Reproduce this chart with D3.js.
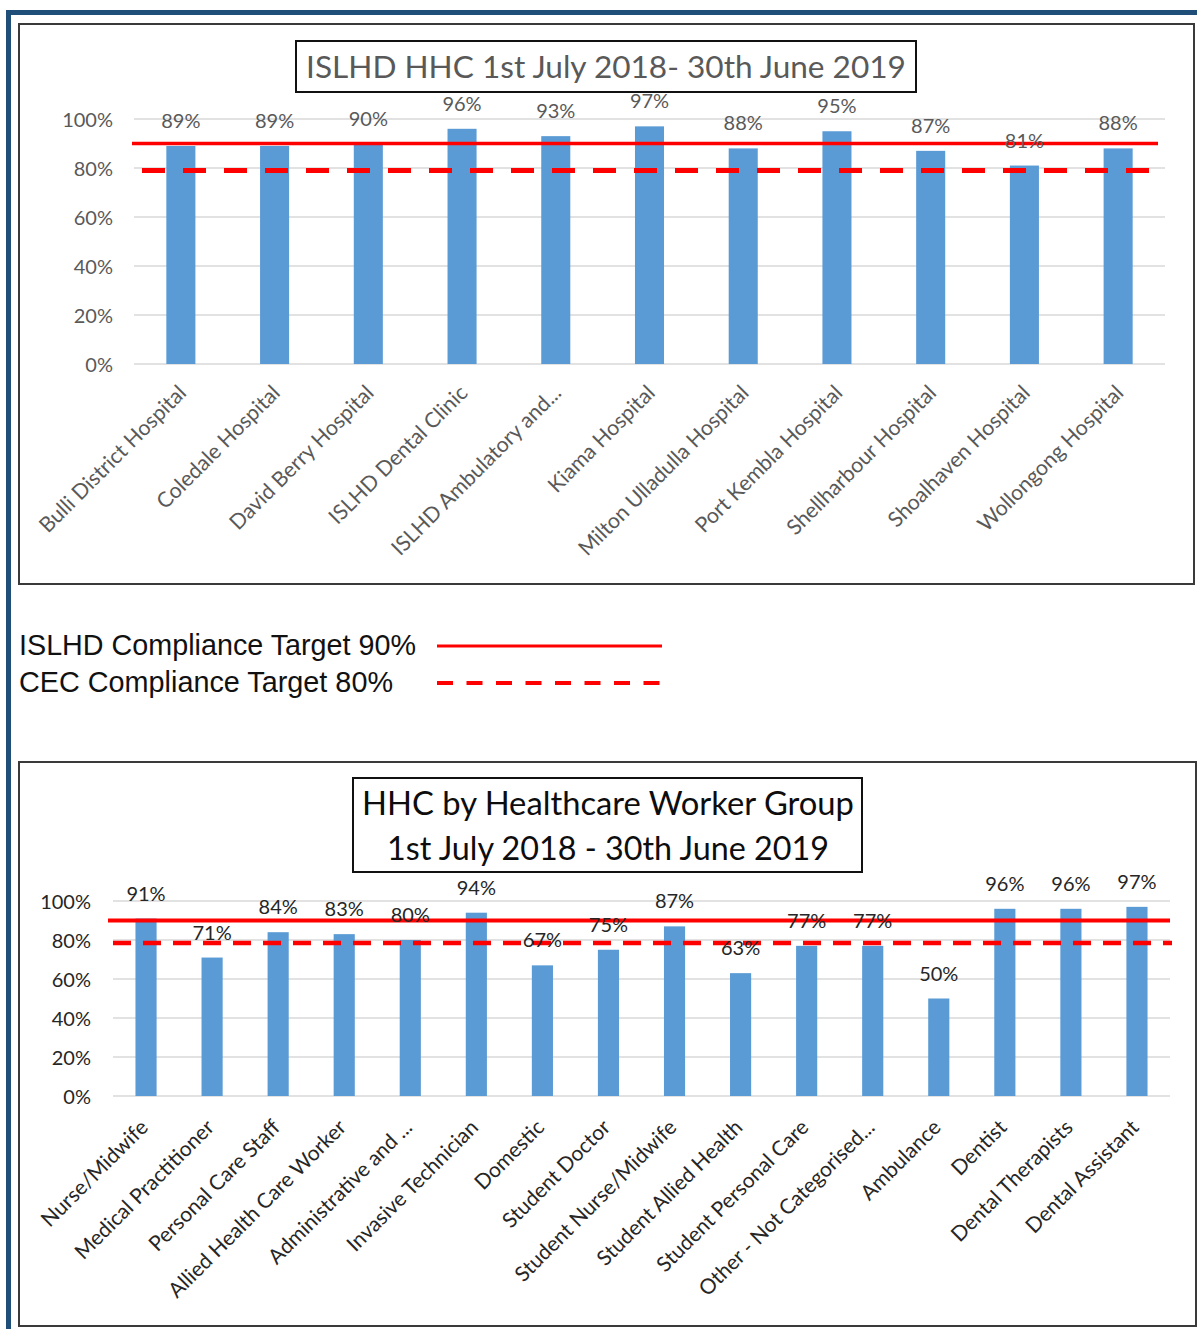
<!DOCTYPE html>
<html>
<head>
<meta charset="utf-8">
<script src="https://cdn.jsdelivr.net/npm/d3@7"></script>
<style>
  body { margin: 0; background: #fff; }
  svg { display: block; }
</style>
</head>
<body>
<script>
// ---- data ----
const sites = ["Bulli District Hospital", "Coledale Hospital", "David Berry Hospital", "ISLHD Dental Clinic",
  "ISLHD Ambulatory and...", "Kiama Hospital", "Milton Ulladulla Hospital", "Port Kembla Hospital",
  "Shellharbour Hospital", "Shoalhaven Hospital", "Wollongong Hospital"];
const siteHHC = [0.89, 0.89, 0.90, 0.96, 0.93, 0.97, 0.88, 0.95, 0.87, 0.81, 0.88];

const groups = ["Nurse/Midwife", "Medical Practitioner", "Personal Care Staff", "Allied Health Care Worker",
  "Administrative and ...", "Invasive Technician", "Domestic", "Student Doctor", "Student Nurse/Midwife",
  "Student Allied Health", "Student Personal Care", "Other - Not Categorised...", "Ambulance", "Dentist",
  "Dental Therapists", "Dental Assistant"];
const groupHHC = [0.91, 0.71, 0.84, 0.83, 0.80, 0.94, 0.67, 0.75, 0.87, 0.63, 0.77, 0.77, 0.50, 0.96, 0.96, 0.97];

const yTicks = [0, 0.2, 0.4, 0.6, 0.8, 1];
// target lines as they sit on the charts (ISLHD solid, CEC dashed)
const targetLevels = [0.90, 0.79];
const legendLabels = ["ISLHD Compliance Target 90%", "CEC Compliance Target 80%"];
const titleTop = ["ISLHD HHC 1st July 2018- 30th June 2019"];
const titleBottom = ["HHC by Healthcare Worker Group", "1st July 2018 - 30th June 2019"];

const W = 1197, H = 1329;
const svg = d3.select("body").append("svg").attr("width", W).attr("height", H);

// shrink/grow a text's font so it spans a given width
const fitWidth = (sel, w) => {
  sel.each(function() {
    const fs = parseFloat(this.getAttribute("font-size"));
    const len = this.getComputedTextLength();
    this.setAttribute("font-size", (fs * w / len).toFixed(2));
  });
};

// outer blue frame (top and left edges show)
svg.append("path")
  .attr("d", `M8.5,${H} V12.5 H${W}`)
  .attr("fill", "none").attr("stroke", "#1f4e79").attr("stroke-width", 5);

const drawChart = (c) => {
  const g = svg.append("g");
  g.append("rect").attr("x", c.box[0]).attr("y", c.box[1])
    .attr("width", c.box[2] - c.box[0]).attr("height", c.box[3] - c.box[1])
    .attr("fill", "#fff").attr("stroke", "#3a3a3a").attr("stroke-width", 2);

  // title box
  g.append("rect").attr("x", c.tbox[0]).attr("y", c.tbox[1])
    .attr("width", c.tbox[2] - c.tbox[0]).attr("height", c.tbox[3] - c.tbox[1])
    .attr("fill", "#fff").attr("stroke", "#111").attr("stroke-width", 2);
  c.title.forEach((t, i) => {
    g.append("text").attr("x", c.titleX).attr("y", c.titleY[i])
      .attr("text-anchor", "middle").attr("font-family", "Lato, sans-serif")
      .attr("font-size", 30).attr("fill", c.titleColor).text(t)
      .call(fitWidth, c.titleW[i]);
  });

  const x = d3.scaleBand().domain(c.cats).range([c.x0, c.x1]).paddingInner(c.pad).paddingOuter(c.pad / 2);
  const y = d3.scaleLinear().domain([0, 1]).range([c.yBot, c.yTop]);

  // gridlines
  g.append("g").selectAll("line").data(yTicks).join("line")
    .attr("x1", c.x0).attr("x2", c.x1)
    .attr("y1", d => y(d)).attr("y2", d => y(d))
    .attr("stroke", "#d9d9d9").attr("stroke-width", 1.3);

  // y axis labels
  const yAxis = d3.axisLeft(y).tickValues(yTicks).tickFormat(d3.format(".0%")).tickSize(0).tickPadding(0);
  const ya = g.append("g").attr("transform", `translate(${c.yLabelX},0)`).call(yAxis);
  ya.select(".domain").remove();
  ya.selectAll("text").attr("font-family", "Lato, sans-serif").attr("font-size", c.fs)
    .attr("fill", c.textColor).attr("dy", "0.35em");

  // bars
  g.append("g").selectAll("rect").data(c.vals).join("rect")
    .attr("x", (d, i) => x(c.cats[i]))
    .attr("width", x.bandwidth())
    .attr("y", d => y(d))
    .attr("height", d => y(0) - y(d))
    .attr("fill", "#5b9bd5");

  // target lines
  g.append("line").attr("x1", c.solidX[0]).attr("x2", c.solidX[1])
    .attr("y1", y(targetLevels[0])).attr("y2", y(targetLevels[0]))
    .attr("stroke", "#ff0000").attr("stroke-width", c.solidW);
  g.append("line").attr("x1", c.dashX[0]).attr("x2", c.dashX[1])
    .attr("y1", y(targetLevels[1]) + c.dashShift).attr("y2", y(targetLevels[1]) + c.dashShift)
    .attr("stroke", "#ff0000").attr("stroke-width", c.dashW).attr("stroke-dasharray", c.dash);

  // value labels
  g.append("g").selectAll("text").data(c.vals).join("text")
    .attr("x", (d, i) => x(c.cats[i]) + x.bandwidth() / 2)
    .attr("y", d => y(d) - c.labelGap)
    .attr("text-anchor", "middle").attr("font-family", "Lato, sans-serif")
    .attr("font-size", c.fs).attr("fill", c.textColor)
    .text(d => d3.format(".0%")(d));

  // category labels, rotated
  const xAxis = d3.axisBottom(x).tickSize(0).tickPadding(0);
  const xa = g.append("g").attr("transform", `translate(0,${c.yBot})`).call(xAxis);
  xa.select(".domain").remove();
  xa.selectAll("text")
    .attr("font-family", "Lato, sans-serif").attr("font-size", c.xfs).attr("fill", c.textColor)
    .attr("text-anchor", "end").attr("y", 0).attr("dy", "0.35em")
    .attr("transform", `translate(${c.xlOff[0]},${c.xlOff[1]}) rotate(-45)`);
};

drawChart({
  box: [19, 24, 1194, 584], tbox: [296, 41, 916, 92],
  title: titleTop, titleX: 606, titleY: [78], titleW: [600], titleColor: "#595959",
  cats: sites, vals: siteHHC, x0: 134, x1: 1165, yTop: 119, yBot: 364, pad: 0.69,
  yLabelX: 113, fs: 20, xfs: 21.3, textColor: "#595959", labelGap: 18,
  solidX: [132, 1158], dashX: [142, 1150], solidW: 3.5, dashW: 5, dash: "23 18", dashShift: 0,
  xlOff: [1.5, 25]
});

drawChart({
  box: [19, 762, 1196, 1326], tbox: [353, 778, 862, 872],
  title: titleBottom, titleX: 608, titleY: [815, 860], titleW: [492, 442], titleColor: "#0d0d0d",
  cats: groups, vals: groupHHC, x0: 113, x1: 1170, yTop: 901, yBot: 1096, pad: 0.68,
  yLabelX: 91, fs: 20, xfs: 21, textColor: "#262626", labelGap: 18,
  solidX: [108, 1170], dashX: [113, 1172], solidW: 4, dashW: 4.5, dash: "18 12", dashShift: 1,
  xlOff: [-2, 27.5]
});

// legend for the target lines
const leg = svg.append("g");
legendLabels.forEach((t, i) => {
  const yy = [655, 692][i];
  leg.append("text").attr("x", 19).attr("y", yy)
    .attr("font-family", "'Liberation Sans', Arial, sans-serif").attr("font-size", 26)
    .attr("fill", "#111").text(t)
    .call(fitWidth, [397, 374][i]);
});
leg.append("line").attr("x1", 437).attr("x2", 662).attr("y1", 646).attr("y2", 646)
  .attr("stroke", "#ff0000").attr("stroke-width", 3);
leg.append("line").attr("x1", 437).attr("x2", 669).attr("y1", 683).attr("y2", 683)
  .attr("stroke", "#ff0000").attr("stroke-width", 4).attr("stroke-dasharray", "16 13.5");
</script>
</body>
</html>
